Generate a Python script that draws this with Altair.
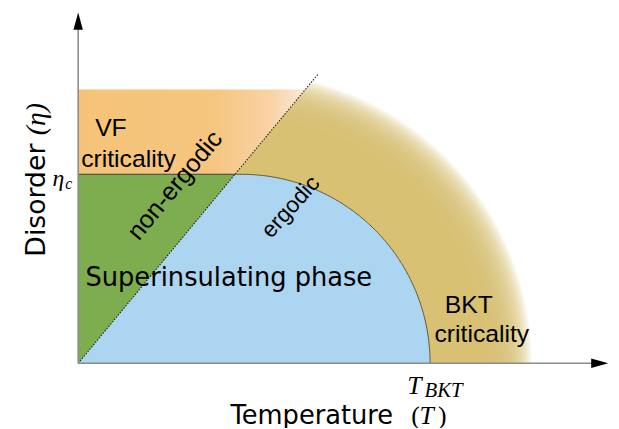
import numpy as np
import pandas as pd
import altair as alt

# ---- values (temperature in units of T_BKT, disorder on the same scale) ----
T_BKT = 1.0
ETA_C = 0.537
ARC_CENTER_T = 0.463          # centre of the superinsulating-phase boundary (on the T axis)
DIAG_SLOPE = 1.205            # ergodic / non-ergodic crossover line: eta = slope * T
DIAG_END_T = 0.683
VF_TOP = 0.778                # top of the VF-criticality band
BKT_FADE_RADII = [0.690, 0.695, 0.700, 0.705, 0.710, 0.715, 0.720, 0.725, 0.730, 0.735,
                  0.740, 0.745, 0.750, 0.755, 0.760, 0.765, 0.770, 0.775, 0.780, 0.785,
                  0.790, 0.795, 0.800, 0.805, 0.810, 0.815, 0.820, 0.825]
X_AXIS_END = 1.468
Y_AXIS_END = 0.955
X_ARROW = 1.482
Y_ARROW = 0.972

X_DOMAIN = [0, 1.5]
Y_DOMAIN = [0, 0.98]

# labels: text, T, eta
LABEL_TEXT = ["VF", "criticality", "BKT", "criticality"]
LABEL_T = [0.093, 0.143, 1.110, 1.147]
LABEL_ETA = [0.669, 0.581, 0.166, 0.084]

COLOR_GOLD = "#DCC377"
COLOR_BLUE = "#ABD5F0"
COLOR_GREEN = "#7EAD50"
COLOR_ORANGE = "#F5C378"

xs = alt.Scale(domain=X_DOMAIN, nice=False, zero=False)
ys = alt.Scale(domain=Y_DOMAIN, nice=False, zero=False)


def X(f="x"):
    return alt.X(f"{f}:Q", scale=xs, axis=None)


def Y(f="y"):
    return alt.Y(f"{f}:Q", scale=ys, axis=None)


def disc_region(radius):
    """Points of the part of a disc (centre ARC_CENTER_T on the T axis) lying right of the crossover line."""
    c = ARC_CENTER_T
    phi = np.linspace(0, np.pi, 400)
    xa = c + radius * np.cos(phi)
    xl = np.linspace(0, c + radius, 400)
    x = np.unique(np.concatenate([xa, xl]))
    x = x[(x >= 0) & (x <= c + radius)]
    circ = np.sqrt(np.clip(radius ** 2 - (x - c) ** 2, 0, None))
    upper = np.minimum(DIAG_SLOPE * x, circ)
    return x, upper


# golden BKT-criticality halo (stack of translucent discs -> radial fade)
rows = []
for k, r in enumerate(BKT_FADE_RADII):
    x, u = disc_region(r)
    rows.append(pd.DataFrame({"x": x, "y": u, "y0": 0.0, "ring": k}))
gold_df = pd.concat(rows)
gold = alt.Chart(gold_df).mark_area(color=COLOR_GOLD, opacity=0.13).encode(
    x=X(), y=Y(), y2="y0:Q", detail="ring:N")

# blue superinsulating phase
R = T_BKT - ARC_CENTER_T
bx, bu = disc_region(R)
blue_df = pd.DataFrame({"x": bx, "y": bu, "y0": 0.0})
blue = alt.Chart(blue_df).mark_area(color=COLOR_BLUE).encode(x=X(), y=Y(), y2="y0:Q")

# green non-ergodic triangle
xc = ETA_C / DIAG_SLOPE
green_df = pd.DataFrame({"x": [0, xc], "y": [0, ETA_C], "y2": [ETA_C, ETA_C]})
green = alt.Chart(green_df).mark_area(color=COLOR_GREEN).encode(x=X(), y=Y(), y2="y2:Q")

# orange VF criticality band
xt = VF_TOP / DIAG_SLOPE
orange_df = pd.DataFrame({"x": [0, xc, xt], "y": [ETA_C, ETA_C, VF_TOP], "y2": [VF_TOP] * 3})
orange = alt.Chart(orange_df).mark_area(
    color=alt.Gradient(gradient="linear", x1=0, y1=0.5, x2=1, y2=0.5,
                       stops=[alt.GradientStop(color=COLOR_ORANGE, offset=0),
                              alt.GradientStop(color="#F6C680", offset=0.6),
                              alt.GradientStop(color="#F9D3A6", offset=0.85),
                              alt.GradientStop(color="#FCE8DA", offset=1)])
).encode(x=X(), y=Y(), y2="y2:Q")

# boundary arc
phi0 = np.arccos((xc - ARC_CENTER_T) / R)
phi = np.linspace(phi0, 0, 200)
arc_df = pd.DataFrame({"x": ARC_CENTER_T + R * np.cos(phi), "y": R * np.sin(phi), "o": np.arange(200)})
arc = alt.Chart(arc_df).mark_line(color="#5E5530", strokeWidth=1).encode(x=X(), y=Y(), order="o:Q")

# eta_c line
etac_df = pd.DataFrame({"x": [0], "x2": [xc], "y": [ETA_C]})
etac = alt.Chart(etac_df).mark_rule(color="#3a3a3a", strokeWidth=1.2).encode(x=X(), x2="x2:Q", y=Y())

# dotted crossover line
diag_df = pd.DataFrame({"x": [0], "x2": [DIAG_END_T], "y": [0], "y2": [DIAG_SLOPE * DIAG_END_T]})
diag = alt.Chart(diag_df).mark_rule(color="#222222", strokeWidth=1.1, strokeDash=[1.5, 1.5]).encode(
    x=X(), x2="x2:Q", y=Y(), y2="y2:Q")

# axes
axes_df = pd.DataFrame({"x": [0, 0], "x2": [0, X_AXIS_END], "y": [0, 0], "y2": [Y_AXIS_END, 0]})
axes = alt.Chart(axes_df).mark_rule(color="#8c8c8c", strokeWidth=1.6).encode(
    x=X(), x2="x2:Q", y=Y(), y2="y2:Q")
yarrow = alt.Chart(pd.DataFrame({"x": [0], "y": [Y_ARROW]})).mark_point(
    shape="M -0.55 1 L 0 -1 L 0.55 1 Z", filled=True, color="black", opacity=1, size=300
).encode(x=X(), y=Y())
xarrow = alt.Chart(pd.DataFrame({"x": [X_ARROW], "y": [0]})).mark_point(
    shape="M -1 -0.55 L 1 0 L -1 0.55 Z", filled=True, color="black", opacity=1, size=300
).encode(x=X(), y=Y())


def text_layer(texts, xv, yv, **kw):
    df = pd.DataFrame({"t": texts, "x": xv, "y": yv})
    return alt.Chart(df).mark_text(color="black", **kw).encode(x=X(), y=Y(), text="t:N")


labels = text_layer(LABEL_TEXT, LABEL_T, LABEL_ETA, font="Liberation Sans", fontSize=25, align="center")
superins = text_layer(["Superinsulating phase"], [0.428], [0.2435], font="DejaVu Sans", fontSize=26,
                      align="center")
nonerg = text_layer(["non-ergodic"], [0.2753], [0.5056], font="Liberation Sans", fontSize=25.5,
                    align="center", baseline="middle", angle=309.7)
erg = text_layer(["ergodic"], [0.604], [0.444], font="Liberation Sans", fontSize=23,
                 align="center", baseline="middle", angle=312)
eta_sym = text_layer(["η"], [-0.0393], [0.5225], font="Liberation Serif", fontStyle="italic",
                     fontSize=24, align="right")
eta_sub = text_layer(["c"], [-0.0365], [0.508], font="Liberation Serif", fontStyle="italic",
                     fontSize=16, align="left")
tbkt = text_layer(["T"], [0.935], [-0.0646], font="Liberation Serif", fontStyle="italic",
                  fontSize=26, align="left")
tbkt_sub = text_layer(["BKT"], [0.984], [-0.0787], font="Liberation Serif", fontStyle="italic",
                      fontSize=21, align="left")
TITLE_Y = -0.1495
xtitle = text_layer(["Temperature"], [0.4326], [TITLE_Y], font="DejaVu Sans", fontSize=26, align="left")
xparen = text_layer(["(", ")"], [0.9466, 1.0225], [TITLE_Y, TITLE_Y], font="Liberation Serif",
                    fontSize=26, align="left")
xT = text_layer(["T"], [0.970], [TITLE_Y], font="Liberation Serif", fontStyle="italic", fontSize=26,
                align="left")
ytitle = text_layer(["Disorder"], [-0.118], [0.4635], font="DejaVu Sans", fontSize=27,
                    align="center", angle=270)
yeta = text_layer(["(η)"], [-0.118], [0.6938], font="Liberation Serif", fontStyle="italic",
                  fontSize=28, align="center", angle=270)

chart = alt.layer(
    gold, blue, green, orange, arc, etac, diag, axes, yarrow, xarrow,
    labels, superins, nonerg, erg, eta_sym, eta_sub, tbkt, tbkt_sub, xtitle, xparen, xT, ytitle, yeta
).properties(
    width=534, height=349,
    padding={"left": 71, "top": 8, "right": 5, "bottom": 63},
    autosize=alt.AutoSizeParams(type="none"),
).configure_view(stroke=None)

chart.save("out.html", embed_options={"renderer": "svg", "actions": False})
